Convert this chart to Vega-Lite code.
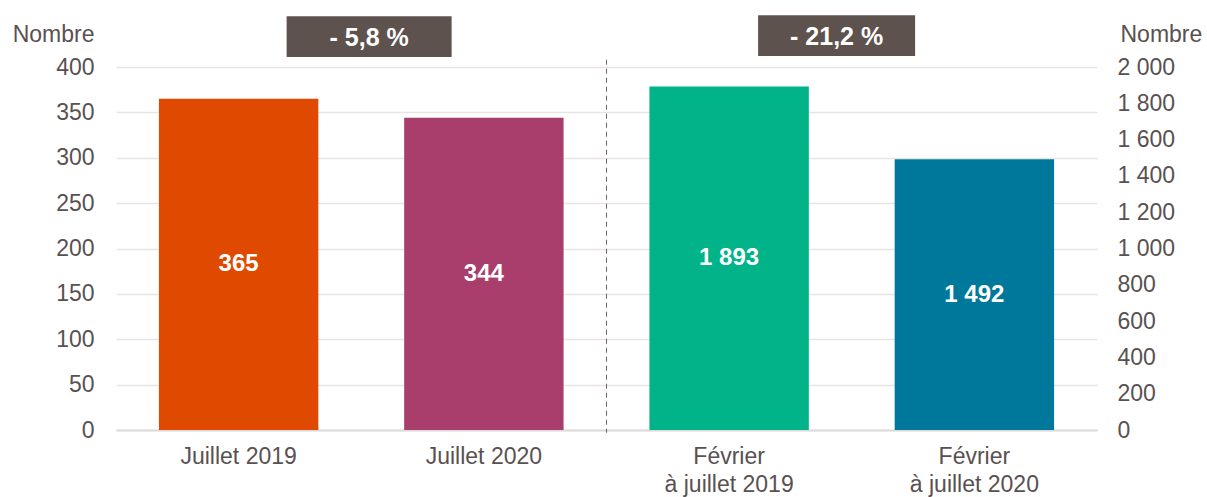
{
  "$schema": "https://vega.github.io/schema/vega-lite/v6.json",
  "width": 981,
  "height": 363,
  "autosize": {"type": "none"},
  "padding": {"left": 116, "top": 67, "right": 110, "bottom": 67},
  "config": {
    "font": "Liberation Sans",
    "view": {"stroke": null},
    "locale": {"number": {"decimal": ",", "thousands": " ", "grouping": [3], "currency": ["", " €"]}},
    "axis": {"labelColor": "#595151", "titleColor": "#595151", "labelFontSize": 23, "titleFontSize": 23, "titleFontWeight": "normal", "labelFont": "Liberation Sans", "titleFont": "Liberation Sans", "labelOverlap": false}
  },
  "datasets": {
    "barres": [
      {"categorie": "Juillet 2019", "valeur": 365, "echelle": "gauche"},
      {"categorie": "Juillet 2020", "valeur": 344, "echelle": "gauche"},
      {"categorie": "Février à juillet 2019", "valeur": 1893, "echelle": "droite"},
      {"categorie": "Février à juillet 2020", "valeur": 1492, "echelle": "droite"}
    ],
    "evolutions": [
      {"periode": "Juillet 2019", "libelle": "- 5,8 %"},
      {"periode": "Février à juillet 2019", "libelle": "- 21,2 %"}
    ],
    "separateur": [{"periode": "Février à juillet 2019"}]
  },
  "resolve": {"scale": {"y": "independent"}},
  "layer": [
    {
      "layer": [
        {
          "data": {"name": "barres"},
          "transform": [{"filter": "datum.echelle == 'gauche'"}],
          "mark": {"type": "bar"},
          "encoding": {
            "x": {"field": "categorie", "type": "nominal", "title": null,
              "scale": {"domain": ["Juillet 2019", "Juillet 2020", "Février à juillet 2019", "Février à juillet 2020"], "paddingInner": 0.35, "paddingOuter": 0.175},
              "axis": {"labelAngle": 0, "ticks": false, "domainColor": "#dedada", "domainWidth": 2, "labelPadding": 15, "labelLineHeight": 28, "labelFontSize": 23,
                "labelExpr": "substring(datum.label, 0, 7) == 'Février' ? ['Février', substring(datum.label, 8)] : datum.label"}},
            "y": {"field": "valeur", "type": "quantitative", "title": "Nombre",
              "scale": {"domain": [0, 400], "nice": false},
              "axis": {"orient": "left", "values": [0, 50, 100, 150, 200, 250, 300, 350, 400], "labelOverlap": false, "grid": true, "gridColor": "#e9e4e4", "gridWidth": 1.5, "domain": false, "ticks": false, "labelPadding": 22,
                "titleAngle": 0, "titleAlign": "right", "titleBaseline": "middle", "titleX": -22, "titleY": -33}},
            "color": {"field": "categorie", "type": "nominal", "legend": null,
              "scale": {"domain": ["Juillet 2019", "Juillet 2020", "Février à juillet 2019", "Février à juillet 2020"], "range": ["#df4a00", "#a93d6b", "#00b388", "#00789c"]}}
          }
        },
        {
          "data": {"name": "barres"},
          "transform": [{"filter": "datum.echelle == 'gauche'"}, {"calculate": "datum.valeur / 2", "as": "milieu"}],
          "mark": {"type": "text", "color": "white", "fontWeight": "bold", "fontSize": 24, "baseline": "middle"},
          "encoding": {
            "x": {"field": "categorie", "type": "nominal", "title": null},
            "y": {"field": "milieu", "type": "quantitative", "title": "Nombre",
              "axis": {"orient": "left", "values": [0, 50, 100, 150, 200, 250, 300, 350, 400], "labelOverlap": false, "grid": true, "gridColor": "#e9e4e4", "gridWidth": 1.5, "domain": false, "ticks": false, "labelPadding": 22,
                "titleAngle": 0, "titleAlign": "right", "titleBaseline": "middle", "titleX": -22, "titleY": -33}},
            "text": {"field": "valeur", "type": "quantitative", "format": ",d"}
          }
        },
        {
          "data": {"name": "separateur"},
          "mark": {"type": "rule", "color": "#6b6262", "strokeDash": [5, 4], "strokeWidth": 1, "xOffset": -122.6},
          "encoding": {
            "x": {"field": "periode", "type": "nominal", "title": null},
            "y": {"datum": 408},
            "y2": {"datum": -3}
          }
        },
        {
          "data": {"name": "evolutions"},
          "transform": [{"filter": "datum.periode == 'Juillet 2019'"}],
          "mark": {"type": "bar", "color": "#5e524e", "width": 165, "xOffset": 130.5},
          "encoding": {
            "x": {"field": "periode", "type": "nominal", "title": null},
            "y": {"datum": 456},
            "y2": {"datum": 411}
          }
        },
        {
          "data": {"name": "evolutions"},
          "transform": [{"filter": "datum.periode == 'Juillet 2019'"}],
          "mark": {"type": "text", "color": "white", "fontWeight": "bold", "fontSize": 25, "baseline": "middle", "xOffset": 130.5},
          "encoding": {
            "x": {"field": "periode", "type": "nominal", "title": null},
            "y": {"datum": 432},
            "text": {"field": "libelle"}
          }
        },
        {
          "data": {"name": "evolutions"},
          "transform": [{"filter": "datum.periode == 'Février à juillet 2019'"}],
          "mark": {"type": "bar", "color": "#5e524e", "width": 157, "xOffset": 107.5},
          "encoding": {
            "x": {"field": "periode", "type": "nominal", "title": null},
            "y": {"datum": 457},
            "y2": {"datum": 412}
          }
        },
        {
          "data": {"name": "evolutions"},
          "transform": [{"filter": "datum.periode == 'Février à juillet 2019'"}],
          "mark": {"type": "text", "color": "white", "fontWeight": "bold", "fontSize": 25, "baseline": "middle", "xOffset": 107.5},
          "encoding": {
            "x": {"field": "periode", "type": "nominal", "title": null},
            "y": {"datum": 433},
            "text": {"field": "libelle"}
          }
        }
      ]
    },
    {
      "layer": [
        {
          "data": {"name": "barres"},
          "transform": [{"filter": "datum.echelle == 'droite'"}],
          "mark": {"type": "bar"},
          "encoding": {
            "x": {"field": "categorie", "type": "nominal", "title": null},
            "y": {"field": "valeur", "type": "quantitative", "title": "Nombre",
              "scale": {"domain": [0, 2000], "nice": false},
              "axis": {"orient": "right", "values": [0, 200, 400, 600, 800, 1000, 1200, 1400, 1600, 1800, 2000], "format": ",d", "grid": false, "domain": false, "ticks": false, "labelPadding": 20, "labelOverlap": false,
                "titleAngle": 0, "titleAlign": "left", "titleBaseline": "middle", "titleX": 23, "titleY": -33}},
            "color": {"field": "categorie", "type": "nominal", "legend": null}
          }
        },
        {
          "data": {"name": "barres"},
          "transform": [{"filter": "datum.echelle == 'droite'"}, {"calculate": "datum.valeur / 2", "as": "milieu"}],
          "mark": {"type": "text", "color": "white", "fontWeight": "bold", "fontSize": 24, "baseline": "middle"},
          "encoding": {
            "x": {"field": "categorie", "type": "nominal", "title": null},
            "y": {"field": "milieu", "type": "quantitative", "title": "Nombre",
              "axis": {"orient": "right", "values": [0, 200, 400, 600, 800, 1000, 1200, 1400, 1600, 1800, 2000], "format": ",d", "grid": false, "domain": false, "ticks": false, "labelPadding": 20, "labelOverlap": false,
                "titleAngle": 0, "titleAlign": "left", "titleBaseline": "middle", "titleX": 23, "titleY": -33}},
            "text": {"field": "valeur", "type": "quantitative", "format": ",d"}
          }
        }
      ]
    }
  ]
}
